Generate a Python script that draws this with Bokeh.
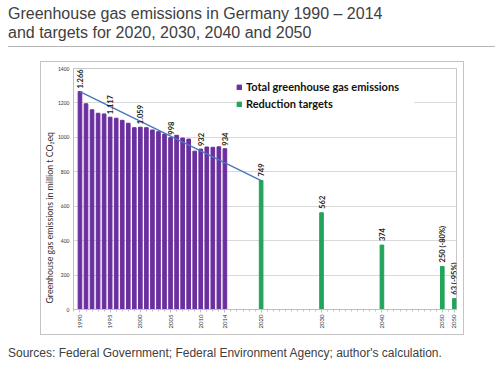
import math
from bokeh.plotting import figure
from bokeh.models import Div, FixedTicker, Legend, LegendItem, ColumnDataSource, Title
from bokeh.layouts import column
from bokeh.core.properties import value
from bokeh.embed import file_html
from bokeh.resources import INLINE

# ---- data ----
years = list(range(1990, 2015))
emissions = [1266, 1195, 1160, 1140, 1136, 1117, 1111, 1099, 1082, 1056,
             1059, 1056, 1043, 1033, 1019, 998, 1012, 996, 990, 920,
             932, 944, 942, 945, 934]
emission_label_years = [1990, 1995, 2000, 2005, 2010, 2014]
emission_label_texts = ["1.266", "1.117", "1.059", "998", "932", "934"]

target_slots = [2020, 2030, 2040, 2050, 2052]
target_values = [749, 562, 374, 250, 63]
target_texts = ["749", "562", "374", "250 (-80%)", "63 (-95%)"]

tick_slots = [1990, 1995, 2000, 2005, 2010, 2014, 2020, 2030, 2040, 2050, 2052]
tick_texts = ["1990", "1995", "2000", "2005", "2010", "2014", "2020", "2030", "2040", "2050", "2050"]
y_ticks = [0, 200, 400, 600, 800, 1000, 1200, 1400]

title_lines = ["Greenhouse gas emissions in Germany 1990 \u2013 2014",
               "and targets for 2020, 2030, 2040 and 2050"]
source_text = "Sources: Federal Government; Federal Environment Agency; author's calculation."
y_title = "Greenhouse gas emissions in million t CO\u2082eq"

PURPLE = "#6b2f9f"
GREEN = "#24a35a"
BLUE = "#4a78bc"
FONT = "Lato"

# ---- figure ----
p = figure(width=424, height=274, x_range=(1988.93, 2052.35), y_range=(0, 1400),
           output_backend="svg", toolbar_location=None,
           min_border_left=31, min_border_right=9, min_border_top=6, min_border_bottom=27,
           margin=(14, 0, 0, 32),
           styles={"border": "1px solid #c4c4c4", "box-sizing": "border-box"})

p.outline_line_color = "#c8c8c8"
p.xgrid.grid_line_color = None
p.ygrid.grid_line_color = "#d9d9d9"
p.ygrid.ticker = FixedTicker(ticks=y_ticks)

src_e = ColumnDataSource(dict(x=years, top=emissions))
r_e = p.vbar(x="x", top="top", width=0.6, source=src_e, color=PURPLE)
src_t = ColumnDataSource(dict(x=target_slots, top=target_values))
r_t = p.vbar(x="x", top="top", width=0.6, source=src_t, color=GREEN)

# trend line from first emission value to 2020 target
p.line(x=[years[0], target_slots[0]], y=[emissions[0], target_values[0]],
       line_color=BLUE, line_width=1.5)

# value labels
lab_top = [emissions[years.index(y)] for y in emission_label_years]
p.text(x=emission_label_years, y=lab_top, text=emission_label_texts, angle=math.pi / 2,
       text_align="left", text_baseline="middle", y_offset=-3,
       text_font=value(FONT), text_font_size="7.5px", text_font_style="bold", text_color="#222222")
p.text(x=target_slots, y=target_values, text=target_texts, angle=math.pi / 2,
       text_align="left", text_baseline="middle", y_offset=-4,
       text_font=value(FONT), text_font_size="7.5px", text_font_style="bold", text_color="#222222")

# axes
minor = list(range(1989, 2053))
p.xaxis.ticker = FixedTicker(ticks=tick_slots, minor_ticks=minor)
p.xaxis.major_label_overrides = {s: t for s, t in zip(tick_slots, tick_texts)}
p.xaxis.major_label_orientation = math.pi / 2
p.xaxis.major_label_text_font = FONT
p.xaxis.major_label_text_font_size = "6px"
p.xaxis.major_label_text_color = "#333333"
p.xaxis.major_label_standoff = 2
p.xaxis.axis_line_color = "#bfbfbf"
p.xaxis.major_tick_line_color = "#bfbfbf"
p.xaxis.minor_tick_line_color = "#bfbfbf"
p.xaxis.major_tick_out = 3
p.xaxis.major_tick_in = 0
p.xaxis.minor_tick_out = 2
p.xaxis.minor_tick_in = 0

p.yaxis.ticker = FixedTicker(ticks=y_ticks)
p.yaxis.major_label_text_font = FONT
p.yaxis.major_label_text_font_size = "5px"
p.yaxis.major_label_text_color = "#333333"
p.yaxis.major_label_standoff = 4
p.yaxis.axis_line_color = "#bfbfbf"
p.yaxis.major_tick_line_color = None
p.yaxis.minor_tick_line_color = None
p.yaxis.major_tick_out = 0
p.yaxis.major_tick_in = 0
p.yaxis.minor_tick_out = 0
p.yaxis.minor_tick_in = 0

p.add_layout(Title(text=y_title, align="left", text_font=FONT, text_font_size="8.8px",
                   text_font_style="normal", text_color="#333333",
                   standoff=0, offset=6), "left")

legend = Legend(items=[LegendItem(label="Total greenhouse gas emissions", renderers=[r_e]),
                       LegendItem(label="Reduction targets", renderers=[r_t])],
                location=(163, 199), orientation="vertical",
                glyph_width=6, glyph_height=6, label_height=12, label_standoff=4,
                spacing=4, padding=5, margin=0, label_width=168,
                label_text_font=FONT, label_text_font_size="11px",
                label_text_font_style="bold", label_text_color="#111111",
                border_line_color=None, background_fill_color="white",
                background_fill_alpha=1.0)
p.add_layout(legend, "center")

title_div = Div(text="<br>".join(title_lines), width=481, height=42,
                margin=(-3, 0, 0, 0),
                styles={"font-family": "'Liberation Sans', Arial, sans-serif",
                        "font-size": "16px", "line-height": "18.5px", "color": "#404040",
                        "border-bottom": "1px solid #b5b5b5", "box-sizing": "border-box",
                        "width": "487px"})
source_div = Div(text=source_text, width=481, height=16, margin=(10, 0, 0, 0),
                 styles={"font-family": "'Liberation Sans', Arial, sans-serif",
                         "font-size": "12px", "line-height": "16px", "color": "#404040"})

layout = column(title_div, p, source_div, spacing=0, margin=(8, 0, 0, 8))

open("out.html", "w").write(file_html(layout, INLINE))
